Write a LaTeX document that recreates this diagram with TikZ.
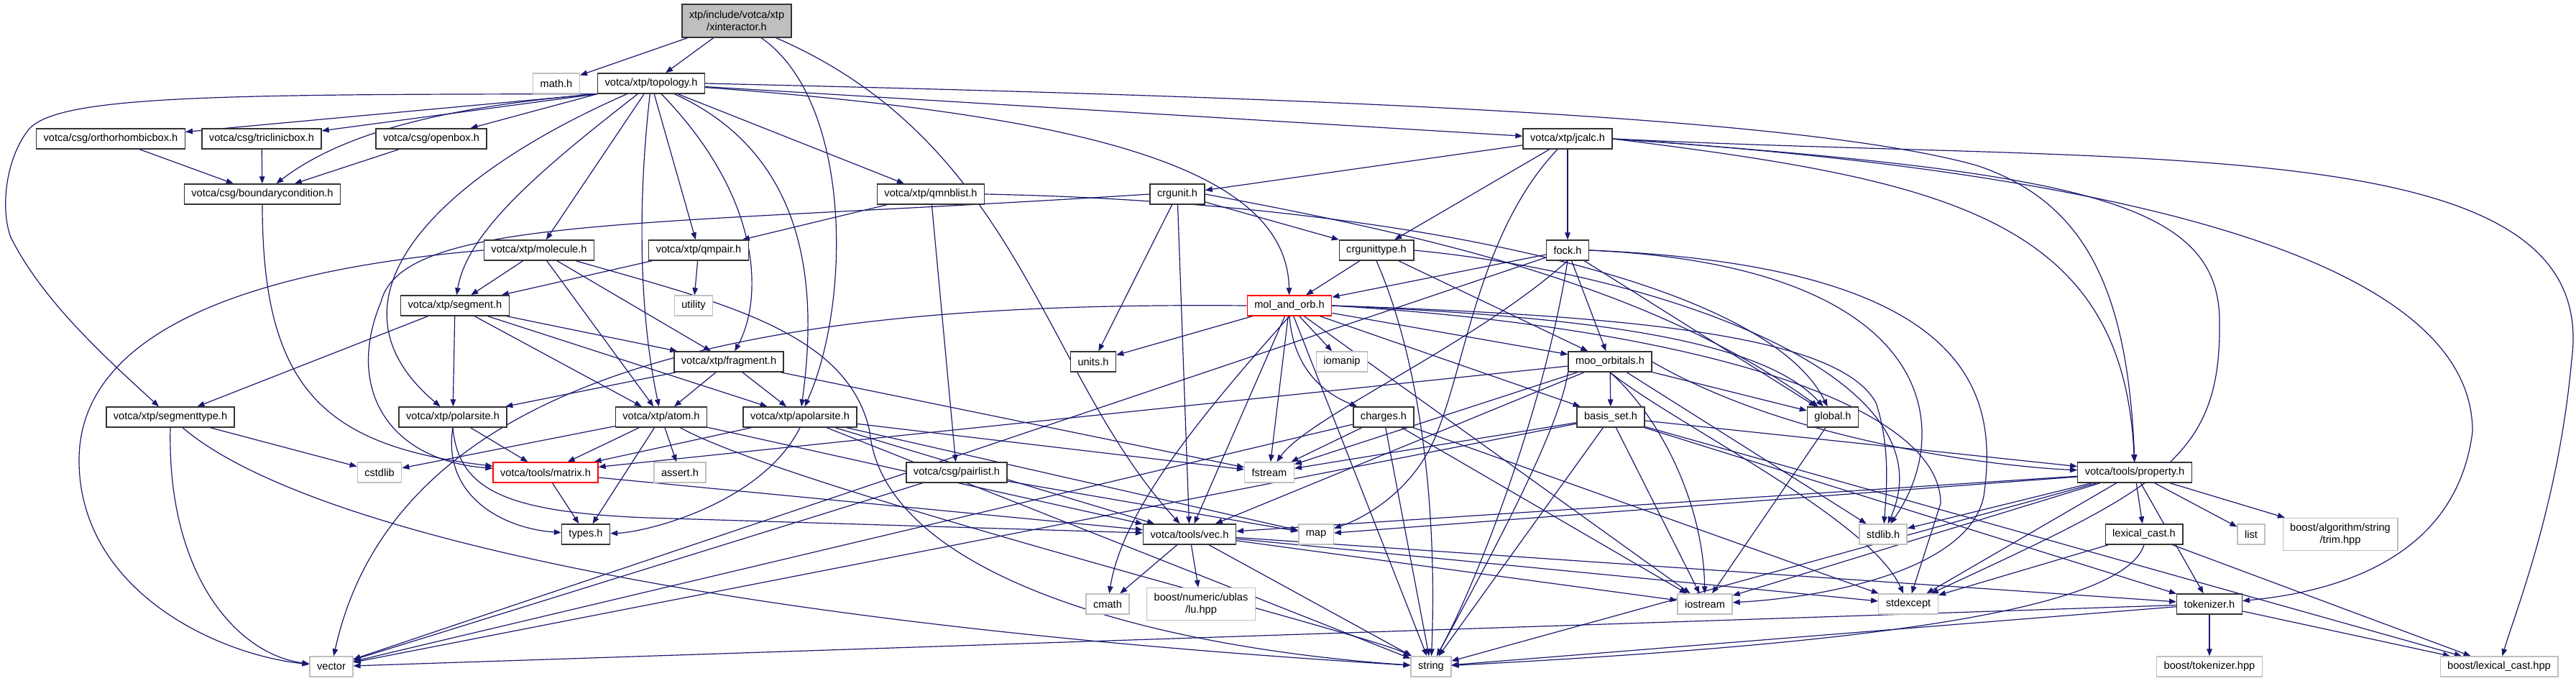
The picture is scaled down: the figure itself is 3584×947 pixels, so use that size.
\documentclass[tikz,border=0pt]{standalone}
\usepackage{fontspec}
\setmainfont{Liberation Sans}
\usetikzlibrary{arrows.meta}
\definecolor{mblue}{HTML}{191970}
\definecolor{sysgray}{HTML}{BFBFBF}
\pgfdeclarelayer{edges}
\pgfsetlayers{edges,main}
\tikzset{
  nd/.style={draw=black!80, line width=0.7pt, fill=white, minimum height=14pt, inner xsep=5pt, inner ysep=0pt, font=\fontsize{7.3pt}{8.6pt}\selectfont},
  sys/.style={nd, draw=sysgray},
  trunc/.style={nd, draw=red},
  rootnd/.style={nd, fill=sysgray, align=center, minimum height=23pt},
  twoline/.style={sys, align=center, minimum height=22.5pt},
  edge/.style={draw=mblue, line width=0.6pt, -{Triangle[length=5pt,width=3.8pt]}},
}
\begin{document}
\begin{tikzpicture}[x=0.5pt,y=-0.5pt]
\useasboundingbox (0,0) rectangle (3584,947);
% nodes
\node[rootnd] (xint) at (1025,29) {xtp/include/votca/xtp\\/xinteractor.h};
\node[sys] (math) at (774,116) {math.h};
\node[nd] (topo) at (906,116) {votca/xtp/topology.h};
\node[nd] (ortho) at (154,193) {votca/csg/orthorhombicbox.h};
\node[nd] (tric) at (364,193) {votca/csg/triclinicbox.h};
\node[nd] (openb) at (600,193) {votca/csg/openbox.h};
\node[nd] (jcalc) at (2181,193) {votca/xtp/jcalc.h};
\node[nd] (bc) at (365,270) {votca/csg/boundarycondition.h};
\node[nd] (qmnb) at (1295,270) {votca/xtp/qmnblist.h};
\node[nd] (crgu) at (1638,270) {crgunit.h};
\node[nd] (molec) at (750,348) {votca/xtp/molecule.h};
\node[nd] (qmpair) at (972,348) {votca/xtp/qmpair.h};
\node[nd] (crgt) at (1915,348) {crgunittype.h};
\node[nd] (fock) at (2181,348) {fock.h};
\node[nd] (seg) at (633,425) {votca/xtp/segment.h};
\node[sys] (util) at (965,425) {utility};
\node[trunc] (molorb) at (1794,425) {mol\_and\_orb.h};
\node[nd] (frag) at (1014,503) {votca/xtp/fragment.h};
\node[nd] (units) at (1521,503) {units.h};
\node[sys] (ioman) at (1867,503) {iomanip};
\node[nd] (moo) at (2240,503) {moo\_orbitals.h};
\node[nd] (segt) at (237,580) {votca/xtp/segmenttype.h};
\node[nd] (polar) at (630,580) {votca/xtp/polarsite.h};
\node[nd] (atom) at (920,580) {votca/xtp/atom.h};
\node[nd] (apolar) at (1113,580) {votca/xtp/apolarsite.h};
\node[nd] (charges) at (1925,580) {charges.h};
\node[nd] (basis) at (2241,580) {basis\_set.h};
\node[nd] (global) at (2550,580) {global.h};
\node[sys] (cstdlib) at (528,657) {cstdlib};
\node[trunc] (matrix) at (759,657) {votca/tools/matrix.h};
\node[sys] (assert) at (946,657) {assert.h};
\node[nd] (pairl) at (1331,657) {votca/csg/pairlist.h};
\node[sys] (fstream) at (1766,657) {fstream};
\node[nd] (property) at (2970,657) {votca/tools/property.h};
\node[nd] (types) at (815,743) {types.h};
\node[nd] (vec) at (1655,743) {votca/tools/vec.h};
\node[sys] (map) at (1831,743) {map};
\node[sys] (stdlibh) at (2620,743) {stdlib.h};
\node[nd] (lexc) at (2983,743) {lexical\_cast.h};
\node[sys] (list) at (3132,743) {list};
\node[twoline] (trim) at (3256,743) {boost/algorithm/string\\/trim.hpp};
\node[sys] (cmath) at (1541,840) {cmath};
\node[twoline] (lu) at (1671,840) {boost/numeric/ublas\\/lu.hpp};
\node[sys] (iostream) at (2372,840) {iostream};
\node[sys] (stdexc) at (2655,840) {stdexcept};
\node[nd] (tok) at (3074,840) {tokenizer.h};
\node[sys] (vector) at (461,927) {vector};
\node[sys] (string) at (1991,927) {string};
\node[sys] (btok) at (3074,927) {boost/tokenizer.hpp};
\node[sys] (blex) at (3477,927) {boost/lexical\_cast.hpp};
\begin{pgfonlayer}{edges}
\fill[white] (0,0) rectangle (3584,947);
% xinteractor
\draw[edge] (xint) -- (math);
\draw[edge] (xint) -- (topo);
\draw[edge] (xint) .. controls (1185,140) and (1185,420) .. (apolar);
\draw[edge] (xint) .. controls (1420,200) and (1450,520) .. (vec);
% topology
\draw[edge] (topo.south west) -- (ortho);
\draw[edge] (topo.south west) -- (tric);
\draw[edge] (topo.south west) -- (openb);
\draw[edge] (topo.south west) .. controls (600,150) and (470,190) .. (bc);
\draw[edge] (topo.south west) .. controls (300,131) and (80,133) .. (40,180) .. controls (8,220) and (0,290) .. (15,330) .. controls (60,420) and (150,500) .. (segt);
\draw[edge] (topo) .. controls (760,230) and (650,320) .. (seg);
\draw[edge] (topo) -- (molec);
\draw[edge] (topo) .. controls (885,300) and (892,450) .. (atom);
\draw[edge] (topo) .. controls (600,250) and (440,420) .. (polar);
\draw[edge] (topo) -- (qmpair);
\draw[edge] (topo) .. controls (1065,280) and (1060,420) .. (frag);
\draw[edge] (topo) .. controls (1135,220) and (1135,420) .. (apolar);
\draw[edge] (topo) -- (qmnb);
\draw[edge] (topo) .. controls (1500,160) and (1790,230) .. (molorb);
\draw[edge] (topo) -- (jcalc);
\draw[edge] (topo.east) .. controls (1800,135) and (2500,160) .. (2750,230) .. controls (2900,280) and (2960,400) .. (property.north);
% boxes
\draw[edge] (ortho) -- (bc);
\draw[edge] (tric) -- (bc);
\draw[edge] (openb) -- (bc);
\draw[edge] (bc.south) .. controls (365,540) and (450,620) .. (matrix);
% jcalc
\draw[edge] (jcalc) -- (crgu);
\draw[edge] (jcalc) -- (crgt);
\draw[edge] (jcalc) -- (fock);
\draw[edge] (jcalc) .. controls (2060,320) and (2040,500) .. (2000,600) .. controls (1970,680) and (1900,720) .. (map);
\draw[edge] (jcalc.east) .. controls (2700,250) and (2955,300) .. (property);
\draw[edge] (jcalc.east) .. controls (3000,230) and (3620,180) .. (3578,500) .. controls (3560,700) and (3500,850) .. (blex);
\draw[edge] (jcalc.east) .. controls (3100,250) and (3440,400) .. (3440,600) .. controls (3420,760) and (3280,820) .. (tok);
\draw[edge] (jcalc.east) .. controls (2900,240) and (3090,280) .. (3088,450) .. controls (3090,640) and (3000,680) .. (stdexc);
% qmnblist, qmpair
\draw[edge] (qmnb) -- (qmpair);
\draw[edge] (qmnb) -- (pairl);
\draw[edge] (qmnb.east) .. controls (1900,280) and (2450,380) .. (global);
\draw[edge] (qmpair) -- (seg);
\draw[edge] (qmpair) -- (util);
% molecule
\draw[edge] (molec) -- (seg);
\draw[edge] (molec) -- (atom);
\draw[edge] (molec) -- (frag);
\draw[edge] (molec.west) .. controls (300,380) and (110,480) .. (110,640) .. controls (110,820) and (300,910) .. (vector);
\draw[edge] (molec) .. controls (1000,420) and (1180,460) .. (1210,600) .. controls (1230,800) and (1600,900) .. (string);
% segment
\draw[edge] (seg) -- (segt);
\draw[edge] (seg) -- (polar);
\draw[edge] (seg) -- (atom);
\draw[edge] (seg) -- (frag);
\draw[edge] (seg) -- (apolar);
% segmenttype
\draw[edge] (segt) -- (cstdlib);
\draw[edge] (segt.south) .. controls (232,800) and (330,910) .. (vector);
\draw[edge] (segt) .. controls (400,720) and (900,860) .. (string);
% fragment
\draw[edge] (frag) -- (atom);
\draw[edge] (frag) -- (apolar);
\draw[edge] (frag) -- (polar);
\draw[edge] (frag) -- (fstream);
% polarsite
\draw[edge] (polar) -- (matrix);
\draw[edge] (polar.south) .. controls (615,690) and (700,735) .. (types);
\draw[edge] (polar.south) .. controls (638,680) and (700,712) .. (900,720) -- (vec);
% atom
\draw[edge] (atom) -- (matrix);
\draw[edge] (atom) -- (types);
\draw[edge] (atom) -- (vec);
\draw[edge] (atom) -- (cstdlib);
\draw[edge] (atom) -- (assert);
\draw[edge] (atom) .. controls (1100,680) and (1900,880) .. (string);
% apolarsite
\draw[edge] (apolar) -- (matrix);
\draw[edge] (apolar.south) .. controls (1060,700) and (900,740) .. (types);
\draw[edge] (apolar) -- (vec);
\draw[edge] (apolar) -- (fstream);
\draw[edge] (apolar) -- (map);
\draw[edge] (apolar) -- (string);
% pairlist, matrix
\draw[edge] (pairl) -- (map);
\draw[edge] (pairl) -- (vector);
\draw[edge] (matrix) -- (types);
\draw[edge] (matrix) -- (vec);
% crgunit
\draw[edge] (crgu) -- (units);
\draw[edge] (crgu) -- (crgt);
\draw[edge] (crgu) -- (vec);
\draw[edge] (crgu.east) .. controls (2000,330) and (2300,400) .. (global);
\draw[edge] (crgu.west) .. controls (900,315) and (560,300) .. (530,420) .. controls (480,540) and (540,640) .. (matrix);
% crgunittype
\draw[edge] (crgt) -- (molorb);
\draw[edge] (crgt) -- (moo);
\draw[edge] (crgt.south) .. controls (1975,500) and (2000,700) .. (string);
\draw[edge] (crgt.east) .. controls (2300,380) and (2720,520) .. (stdlibh);
% fock
\draw[edge] (fock) -- (molorb);
\draw[edge] (fock) -- (moo);
\draw[edge] (fock) -- (global);
\draw[edge] (fock) -- (vector);
\draw[edge] (fock.south) .. controls (2050,480) and (1820,580) .. (fstream);
\draw[edge] (fock.south) .. controls (2150,560) and (2060,800) .. (string);
\draw[edge] (fock.east) .. controls (2750,370) and (2780,550) .. (2760,690) .. controls (2740,790) and (2550,830) .. (iostream);
\draw[edge] (fock.east) .. controls (2700,370) and (2720,600) .. (stdlibh);
% mol_and_orb
\draw[edge] (molorb) -- (units);
\draw[edge] (molorb) -- (ioman);
\draw[edge] (molorb.south) .. controls (1800,520) and (1850,550) .. (charges);
\draw[edge] (molorb) -- (basis);
\draw[edge] (molorb) -- (moo);
\draw[edge] (molorb.east) .. controls (2200,440) and (2450,470) .. (global);
\draw[edge] (molorb) -- (fstream);
\draw[edge] (molorb) -- (vec);
\draw[edge] (molorb.west) .. controls (1150,420) and (560,480) .. (vector);
\draw[edge] (molorb) -- (string);
\draw[edge] (molorb.south) .. controls (1650,600) and (1560,720) .. (cmath);
\draw[edge] (molorb.east) .. controls (2300,440) and (2560,470) .. (2610,560) .. controls (2630,620) and (2625,680) .. (stdlibh);
\draw[edge] (molorb.east) .. controls (2350,455) and (2700,560) .. (2700,700) -- (stdexc);
\draw[edge] (molorb) -- (iostream);
% moo_orbitals
\draw[edge] (moo) -- (basis);
\draw[edge] (moo) -- (global);
\draw[edge] (moo) -- (matrix);
\draw[edge] (moo) -- (vec);
\draw[edge] (moo) -- (fstream);
\draw[edge] (moo) -- (stdlibh);
\draw[edge] (moo.south) .. controls (2310,580) and (2370,700) .. (iostream);
\draw[edge] (moo.south) .. controls (2330,590) and (2600,720) .. (stdexc);
\draw[edge] (moo.south west) .. controls (2170,600) and (2060,800) .. (string);
\draw[edge] (moo.east) .. controls (2500,620) and (2800,650) .. (property);
% charges
\draw[edge] (charges) -- (fstream);
\draw[edge] (charges) -- (string);
\draw[edge] (charges) -- (vector);
\draw[edge] (charges) -- (iostream);
\draw[edge] (charges) -- (stdexc);
% basis_set
\draw[edge] (basis) -- (fstream);
\draw[edge] (basis) -- (string);
\draw[edge] (basis) -- (vector);
\draw[edge] (basis) -- (iostream);
\draw[edge] (basis) -- (property);
\draw[edge] (basis) -- (tok);
\draw[edge] (basis) -- (blex);
% global
\draw[edge] (global) -- (iostream);
% property
\draw[edge] (property) -- (map);
\draw[edge] (property) -- (string);
\draw[edge] (property) -- (list);
\draw[edge] (property) -- (trim);
\draw[edge] (property) -- (vec);
\draw[edge] (property) -- (lexc);
\draw[edge] (property) -- (tok);
\draw[edge] (property) -- (stdexc);
\draw[edge] (property) -- (iostream);
\draw[edge] (property) -- (stdlibh);
% lexical_cast
\draw[edge] (lexc) -- (blex);
\draw[edge] (lexc) -- (stdexc);
\draw[edge] (lexc.south) .. controls (2950,860) and (2500,900) .. (string);
% tokenizer
\draw[edge] (tok) -- (btok);
\draw[edge] (tok) -- (string);
\draw[edge] (tok) -- (vector);
\draw[edge] (tok) -- (blex);
% vec
\draw[edge] (vec) -- (cmath);
\draw[edge] (vec) -- (lu);
\draw[edge] (vec) -- (string);
\draw[edge] (vec) -- (iostream);
\draw[edge] (vec) -- (stdexc);
\draw[edge] (vec) -- (tok);
\end{pgfonlayer}
\end{tikzpicture}
\end{document}
